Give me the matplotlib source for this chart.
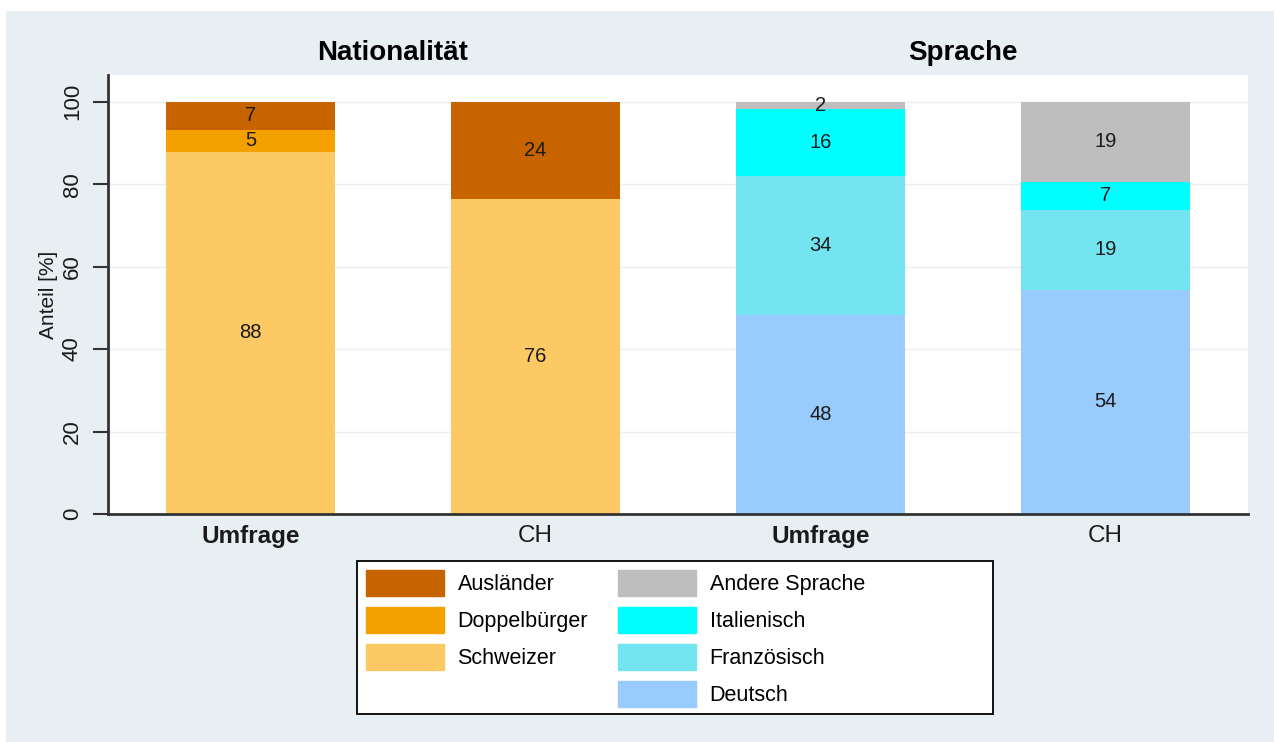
import matplotlib.pyplot as plt
from matplotlib.patches import Patch, Rectangle

plt.rcParams['font.family'] = ['Liberation Sans', 'DejaVu Sans']

# data (percent)
groups = ['Umfrage', 'CH', 'Umfrage', 'CH']
panel_titles = ['Nationalität', 'Sprache']

nat_labels = ['Schweizer', 'Doppelbürger', 'Ausländer']
nat_colors = ['#fdc965', '#f4a100', '#c86400']
nat_umfrage = [87.9, 5.3, 6.8]
nat_ch = [76.4, 0.0, 23.6]

lang_labels = ['Deutsch', 'Französisch', 'Italienisch', 'Andere Sprache']
lang_colors = ['#99cbfe', '#74e4f0', '#00ffff', '#bebebe']
lang_umfrage = [48.3, 33.6, 16.4, 1.7]
lang_ch = [54.4, 19.4, 6.8, 19.4]

W, H = 1274, 742
bg = '#e8eff2'
fig = plt.figure(figsize=(W / 100, H / 100), dpi=100, facecolor='white')
fig.patches.append(Rectangle((6/W, 0), 1, 1 - 11/H, transform=fig.transFigure,
                             facecolor=bg, edgecolor='none', zorder=-10))

ax = fig.add_axes([108/W, 1 - 514/H, 1140/W, 439/H])
ax.set_facecolor('white')

stacks = [(0, nat_umfrage, nat_colors), (1, nat_ch, nat_colors),
          (2, lang_umfrage, lang_colors), (3, lang_ch, lang_colors)]
width = 0.595
for x, vals, cols in stacks:
    bottom = 0
    for v, c in zip(vals, cols):
        if v <= 0:
            continue
        ax.bar(x, v, width, bottom=bottom, color=c, edgecolor='none', zorder=2)
        ax.text(x, bottom + v / 2, '%.0f' % v, ha='center', va='center',
                fontsize=14.5, color='#1a1a1a', zorder=3)
        bottom += v

ax.set_xlim(-0.5, 3.5)
ax.set_ylim(0, 106.5)
ax.set_yticks([0, 20, 40, 60, 80, 100])
ax.set_yticklabels(['0', '20', '40', '60', '80', '100'], rotation=90, va='center')
ax.set_xticks([0, 1, 2, 3])
ax.set_xticklabels(groups)
for i, t in enumerate(ax.get_xticklabels()):
    if i % 2 == 0:
        t.set_fontweight('bold')
ax.tick_params(axis='x', length=0, labelsize=17.5, pad=8, colors='#1a1a1a')
ax.tick_params(axis='y', length=11, width=1.5, labelsize=16, pad=7,
               colors='#333333', labelcolor='#1a1a1a')
ax.grid(axis='y', color='#eaeef0', linewidth=1, zorder=0)
ax.set_axisbelow(True)
for s in ['top', 'right']:
    ax.spines[s].set_visible(False)
for s in ['left', 'bottom']:
    ax.spines[s].set_linewidth(2)
    ax.spines[s].set_color('#333333')
ax.set_ylabel('Anteil [%]', fontsize=15, labelpad=3, color='#1a1a1a')

ax.text(0.5, 1.05, panel_titles[0], transform=ax.get_xaxis_transform(),
        ha='center', va='center', fontsize=20, fontweight='bold')
ax.text(2.5, 1.05, panel_titles[1], transform=ax.get_xaxis_transform(),
        ha='center', va='center', fontsize=20, fontweight='bold')

# legend box drawn separately (it is wider than its content)
fig.patches.append(Rectangle((357/W, 1 - 714/H), 636/W, 153/H, transform=fig.transFigure,
                             facecolor='white', edgecolor='black', linewidth=1.3, zorder=5))

handles = [Patch(color=nat_colors[2], label=nat_labels[2]),
           Patch(color=nat_colors[1], label=nat_labels[1]),
           Patch(color=nat_colors[0], label=nat_labels[0]),
           Patch(color='none', label=''),
           Patch(color=lang_colors[3], label=lang_labels[3]),
           Patch(color=lang_colors[2], label=lang_labels[2]),
           Patch(color=lang_colors[1], label=lang_labels[1]),
           Patch(color=lang_colors[0], label=lang_labels[0])]
leg = fig.legend(handles=handles, ncol=2, loc='upper left',
                 bbox_to_anchor=(357/W, 1 - 561/H), fontsize=15.5,
                 frameon=False, handlelength=3.6, handleheight=1.5,
                 labelspacing=0.5, handletextpad=0.65, columnspacing=1.4,
                 borderpad=0.42, borderaxespad=0)
leg.set_zorder(6)

fig.savefig('out.png', dpi=100, facecolor=fig.get_facecolor())
